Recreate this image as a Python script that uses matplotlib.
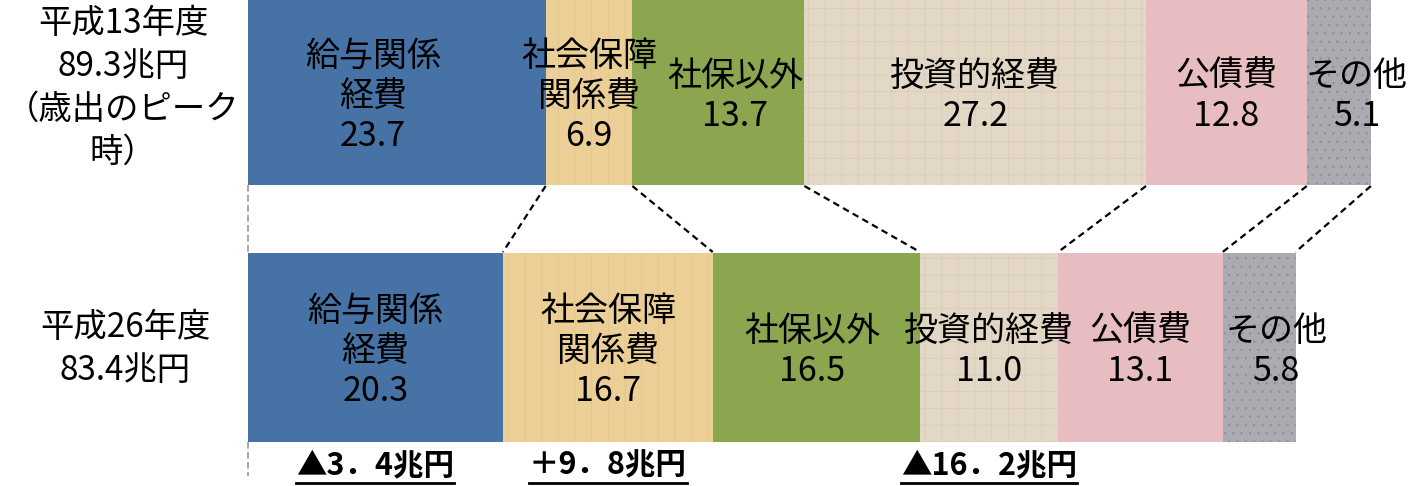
import numpy as np
import matplotlib.pyplot as plt

plt.rcParams['font.family'] = ['Noto Sans CJK JP', 'DejaVu Sans']
plt.rcParams['hatch.linewidth'] = 0.5

# 歳出の内訳（兆円）
categories = ['給与関係\n経費', '社会保障\n関係費', '社保以外', '投資的経費', '公債費', 'その他']
h13_values = [23.7, 6.9, 13.7, 27.2, 12.8, 5.1]
h26_values = [20.3, 16.7, 16.5, 11.0, 13.1, 5.8]
row_labels = ['平成13年度\n89.3兆円\n（歳出のピーク\n時）', '平成26年度\n83.4兆円']
diff_labels = ['▲3．4兆円', '＋9．8兆円', '▲16．2兆円']
diff_index = [0, 1, 3]

colors = ['#4672a6', '#ebcf96', '#8ba64f', '#e3d8c6', '#e8bdc2', '#a9abb0']
hatches = [None, '|', None, '+', None, '..']
hatch_colors = [None, '#e2c68a', None, '#d8ccb8', None, '#8e9096']
# ラベルの横ずれ（px）
label_dx = [[-24, 0, 17, 0, 0, 18], [0, 0, -4, 0, 0, 17]]

px_per_unit = 12.56
x_origin = -248 / px_per_unit
fig = plt.figure(figsize=(14.14, 4.86), dpi=100)
ax = fig.add_axes([0, 0, 1, 1])
ax.set_xlim(x_origin, (1414 - 248) / px_per_unit)
ax.set_ylim(486, 0)
ax.axis('off')

rows = [(h13_values, 92.5, 185), (h26_values, 347.5, 189)]
ends = []
for r, (vals, yc, h) in enumerate(rows):
    lefts = np.concatenate([[0], np.cumsum(vals)[:-1]])
    ends.append(np.cumsum(vals))
    bars = ax.barh(yc, vals, left=lefts, height=h, color=colors, edgecolor='none')
    for b, hc, ht in zip(bars, hatch_colors, hatches):
        if ht:
            b.set_hatch(ht)
            b.set_edgecolor(hc)
            b.set_linewidth(0)
    for i, (lab, v, l) in enumerate(zip(categories, vals, lefts)):
        x = l + v / 2 + label_dx[r][i] / px_per_unit
        ax.text(x, yc + 4, f'{lab}\n{v:.1f}', ha='center', va='center',
                fontsize=24.5, linespacing=1.2)

# 行ラベル
ax.text(x_origin + 123 / px_per_unit, 88, row_labels[0], ha='center', va='center',
        fontsize=24, linespacing=1.3)
ax.text(x_origin + 125 / px_per_unit, 349, row_labels[1], ha='center', va='center',
        fontsize=24, linespacing=1.3)

# 破線の接続線
for a, b in zip(ends[0], ends[1]):
    ax.plot([a, b], [186, 252], color='black', ls=(0, (3, 2)), lw=1.6)
ax.plot([0, 0], [185, 253], color='#999999', ls=(0, (4, 2)), lw=1.2)
ax.plot([0, 0], [442, 476], color='#999999', ls=(0, (4, 2)), lw=1.2)

# 増減
b_lefts = np.concatenate([[0], ends[1][:-1]])
texts = []
for lab, i in zip(diff_labels, diff_index):
    x = b_lefts[i] + h26_values[i] / 2
    t = ax.text(x, 465, lab, ha='center', va='center', fontsize=22, fontweight='bold')
    texts.append(t)

fig.canvas.draw()
inv = ax.transData.inverted()
for t in texts:
    bb = t.get_window_extent()
    (x0, _), (x1, _) = inv.transform([(bb.x0, bb.y0), (bb.x1, bb.y0)])
    ax.plot([x0, x1], [483, 483], color='black', lw=2)

fig.savefig('out.png', dpi=100)
